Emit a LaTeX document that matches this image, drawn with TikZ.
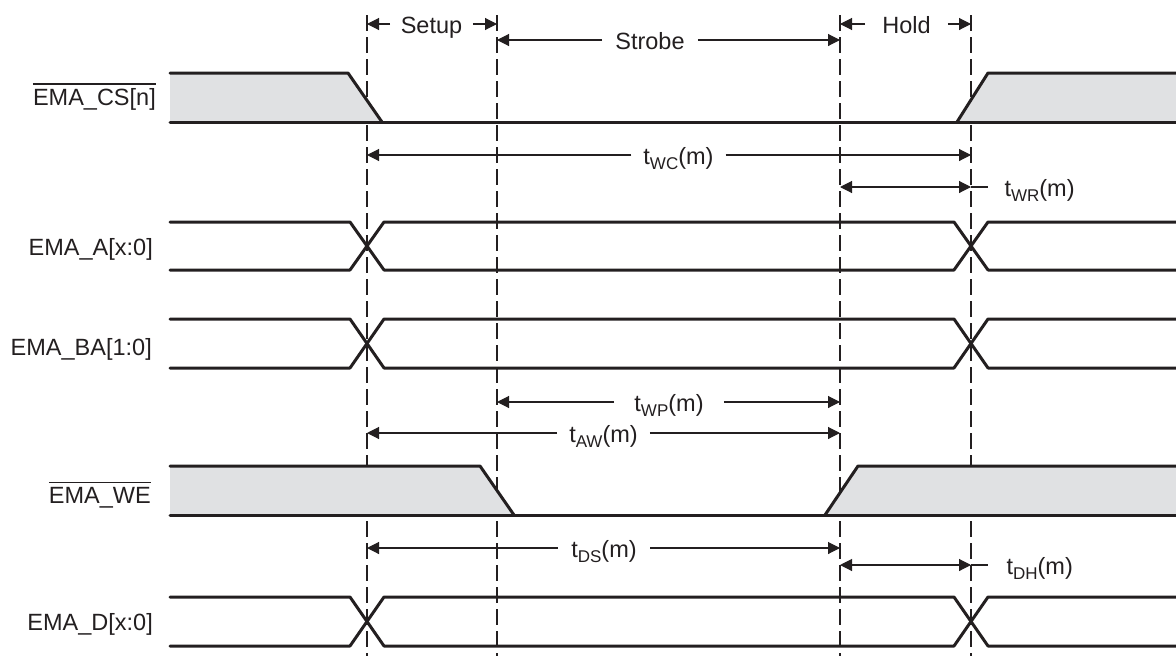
\documentclass[tikz,border=0pt]{standalone}
\usepackage{fontspec}
\setmainfont{Liberation Sans}
\usetikzlibrary{arrows.meta}
\definecolor{ink}{RGB}{35,31,32}
\definecolor{lowfill}{RGB}{224,225,227}
\newcommand\subt[1]{\raisebox{-5pt}{\fontsize{17}{17}\selectfont #1}}
\begin{document}
\begin{tikzpicture}[x=1pt,y=-1pt,
  sig/.style={line width=3pt, draw=ink, line cap=round, line join=round},
  lowarea/.style={fill=lowfill},
  guide/.style={draw=ink, line width=1.1pt, dash pattern=on 16pt off 6pt},
  dimline/.style={draw=ink, line width=1.1pt},
  dim/.style={dimline, -{Triangle[length=12pt,width=12pt]}},
  dimtwo/.style={dimline, {Triangle[length=12pt,width=12pt]}-{Triangle[length=12pt,width=12pt]}},
  lbl/.style={font=\fontsize{23.5}{27}\selectfont, text=ink, inner sep=0pt},
  dlbl/.style={font=\fontsize{23.5}{27}\selectfont, text=ink, inner ysep=0pt, text height=21pt, text depth=3pt},
  bar/.style={draw=ink, line width=1.6pt}
]
\useasboundingbox (0,0) rectangle (1176,656);

% guide lines
\foreach \x [count=\i] in {367,497,840,971}{
  \coordinate (g\i t) at (\x,15);
  \coordinate (g\i b) at (\x,660);
  \draw[guide] (g\i t) -- (g\i b);
}

% EMA_CS
\path[lowarea] (170,73) -- (348,73) -- (382,122) -- (170,122) -- cycle;
\path[lowarea] (957,122) -- (988,73) -- (1176,73) -- (1176,122) -- cycle;
\draw[sig] (170,73) -- (348,73) -- (382,122);
\draw[sig] (170,122) -- (1176,122);
\draw[sig] (957,122) -- (988,73) -- (1176,73);

% buses
\foreach \yt/\yb in {222/270, 319/368, 597/646}{
  \draw[sig] (170,\yt) -- (350,\yt) -- (384,\yb) -- (954,\yb) -- (988,\yt) -- (1176,\yt);
  \draw[sig] (170,\yb) -- (350,\yb) -- (384,\yt) -- (954,\yt) -- (988,\yb) -- (1176,\yb);
}

% EMA_WE
\path[lowarea] (170,466) -- (480,466) -- (514,515) -- (170,515) -- cycle;
\path[lowarea] (825,515) -- (858,466) -- (1176,466) -- (1176,515) -- cycle;
\draw[sig] (170,466) -- (480,466) -- (514,515);
\draw[sig] (170,515) -- (1176,515);
\draw[sig] (825,515) -- (858,466) -- (1176,466);

% signal labels
\node[lbl, anchor=base east] (cs) at (156,105) {EMA\_CS[n]};
\draw[bar] ([yshift=4pt]cs.north west) -- ([yshift=4pt]cs.north east);
\node[lbl, anchor=base east] (a) at (153,255) {EMA\_A[x:0]};
\node[lbl, anchor=base east] (ba) at (152,355) {EMA\_BA[1:0]};
\node[lbl, anchor=base east] (we) at (151,503) {EMA\_WE};
\draw[bar] ([yshift=4pt]we.north west) -- ([yshift=4pt]we.north east);
\node[lbl, anchor=base east] (d) at (153,630) {EMA\_D[x:0]};

% Setup / Strobe / Hold
\node[dlbl, inner xsep=10.5pt] (setup) at (431.5,24) {Setup};
\coordinate (setupL) at (367,24); \coordinate (setupR) at (497,24);
\draw[dim] (setup.west) -- (setupL);
\draw[dim] (setup.east) -- (setupR);

\node[dlbl, inner xsep=13pt] (strobe) at (650,40) {Strobe};
\coordinate (strobeL) at (497,40); \coordinate (strobeR) at (840,40);
\draw[dim] (strobe.west) -- (strobeL);
\draw[dim] (strobe.east) -- (strobeR);

\node[dlbl, inner xsep=17pt] (hold) at (906.5,24) {Hold};
\coordinate (holdL) at (840,24); \coordinate (holdR) at (971,24);
\draw[dim] (hold.west) -- (holdL);
\draw[dim] (hold.east) -- (holdR);

% tWC
\node[dlbl, inner xsep=12pt] (twc) at (678.5,155) {t\subt{WC}(m)};
\coordinate (twcL) at (367,155); \coordinate (twcR) at (971,155);
\draw[dim] (twc.west) -- (twcL);
\draw[dim] (twc.east) -- (twcR);

% tWR
\coordinate (twrL) at (840,187); \coordinate (twrR) at (971,187); \coordinate (twrX) at (988,187);
\draw[dimtwo] (twrL) -- (twrR);
\draw[dimline] (twrR) -- (twrX);
\node[dlbl, anchor=west] (twr) at (1001,187) {t\subt{WR}(m)};

% tWP
\node[dlbl, inner xsep=20pt] (twp) at (669,402) {t\subt{WP}(m)};
\coordinate (twpL) at (497,402); \coordinate (twpR) at (840,402);
\draw[dim] (twp.west) -- (twpL);
\draw[dim] (twp.east) -- (twpR);

% tAW
\node[dlbl, inner xsep=12pt] (taw) at (603.5,433) {t\subt{AW}(m)};
\coordinate (tawL) at (367,433); \coordinate (tawR) at (840,433);
\draw[dim] (taw.west) -- (tawL);
\draw[dim] (taw.east) -- (tawR);

% tDS
\node[dlbl, inner xsep=13.5pt] (tds) at (604,548) {t\subt{DS}(m)};
\coordinate (tdsL) at (367,548); \coordinate (tdsR) at (840,548);
\draw[dim] (tds.west) -- (tdsL);
\draw[dim] (tds.east) -- (tdsR);

% tDH
\coordinate (tdhL) at (840,565); \coordinate (tdhR) at (971,565); \coordinate (tdhX) at (988,565);
\draw[dimtwo] (tdhL) -- (tdhR);
\draw[dimline] (tdhR) -- (tdhX);
\node[dlbl, anchor=west] (tdh) at (1003,565) {t\subt{DH}(m)};
\end{tikzpicture}
\end{document}
